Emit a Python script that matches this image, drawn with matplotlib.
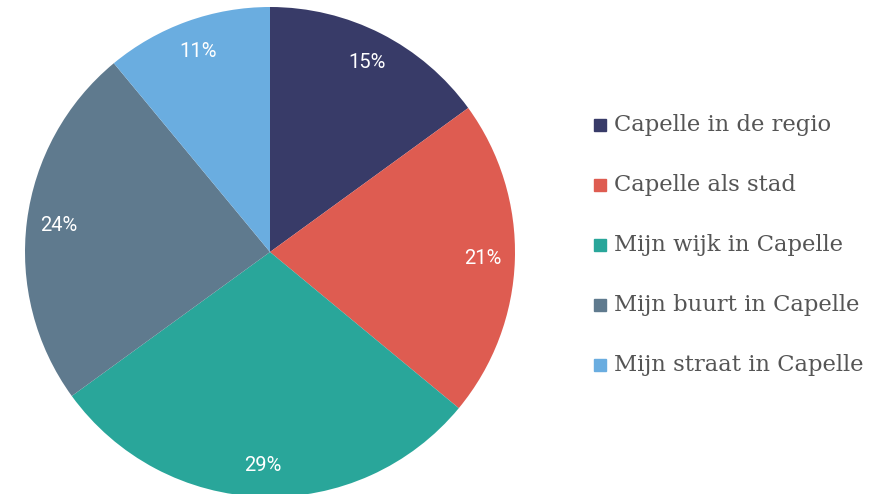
import matplotlib
matplotlib.use('Agg')
import matplotlib.pyplot as plt
from matplotlib.patches import Rectangle

categories = ['Capelle in de regio', 'Capelle als stad', 'Mijn wijk in Capelle',
              'Mijn buurt in Capelle', 'Mijn straat in Capelle']
values = [15, 21, 29, 24, 11]
colors = ['#383b68', '#de5c51', '#29a69a', '#5f7a8e', '#6aade0']

W, H = 884, 494
fig = plt.figure(figsize=(W / 100, H / 100), dpi=100)

# pie centre at (270, 252) px, radius 245 px
cx, cy, r = 270, 252, 245
ax = fig.add_axes([(cx - r) / W, (H - cy - r) / H, 2 * r / W, 2 * r / H])
wedges, texts, autotexts = ax.pie(
    values, colors=colors, startangle=90, counterclock=False,
    autopct='%d%%', pctdistance=0.87, radius=1.0,
    wedgeprops=dict(linewidth=0),
    textprops=dict(color='white', fontsize=14.5, family='Roboto'))
ax.set_xlim(-1, 1)
ax.set_ylim(-1, 1)
ax.set_aspect('equal')
ax.axis('off')

# legend drawn by hand
y0, step = 125, 60
for i, (lab, col) in enumerate(zip(categories, colors)):
    y = y0 + i * step
    fig.patches.append(Rectangle((594 / W, (H - y - 6) / H), 12 / W, 12 / H,
                                 transform=fig.transFigure, color=col))
    fig.text(614 / W, (H - y) / H, lab, fontsize=16.3, family='DejaVu Serif',
             color='#555555', va='center', ha='left')

fig.savefig('out.png', dpi=100)
